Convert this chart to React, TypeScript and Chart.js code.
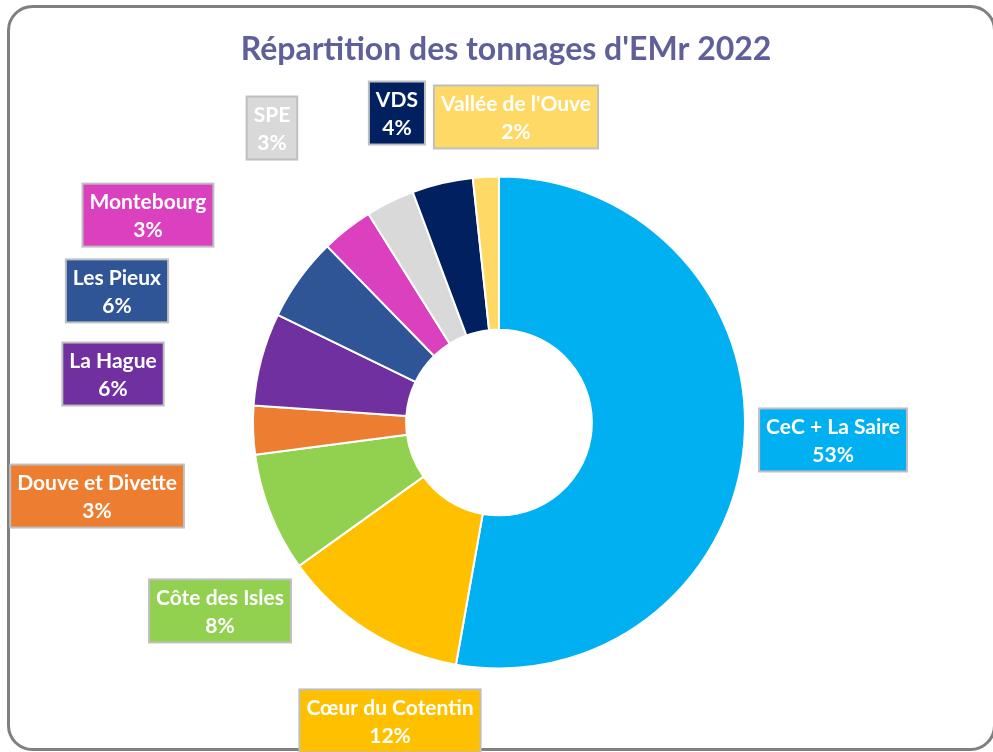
import React, { useEffect, useRef } from "react";
import { Chart, registerables } from "chart.js";

Chart.register(...registerables);

const TITLE = "Répartition des tonnages d'EMr 2022";
const categories = [
  "CeC + La Saire",
  "Cœur du Cotentin",
  "Côte des Isles",
  "Douve et Divette",
  "La Hague",
  "Les Pieux",
  "Montebourg",
  "SPE",
  "VDS",
  "Vallée de l'Ouve",
];
const shares = [52.8, 12.3, 7.8, 3.2, 6.1, 5.5, 3.4, 3.2, 4.0, 1.7];
const colors = [
  "#00B0F0",
  "#FFC000",
  "#92D050",
  "#ED7D31",
  "#7030A0",
  "#2F5597",
  "#DB40BF",
  "#D9D9D9",
  "#002060",
  "#FFD966",
];
// label box centres, in units of the outer radius from the doughnut centre
const labelPlacement: [number, number][] = [
  [1.358, 0.071],
  [-0.443, 1.213],
  [-1.134, 0.766],
  [-1.634, 0.299],
  [-1.569, -0.197],
  [-1.553, -0.535],
  [-1.427, -0.843],
  [-0.923, -1.197],
  [-0.415, -1.258],
  [0.069, -1.242],
];

const FONT = "Lato, 'Open Sans', sans-serif";

const decorPlugin = {
  id: "decor",
  beforeDraw(chart: any) {
    const ctx = chart.ctx as CanvasRenderingContext2D;
    ctx.save();
    ctx.fillStyle = "#ffffff";
    ctx.fillRect(0, 0, chart.width, chart.height);
    // frame
    ctx.strokeStyle = "#808080";
    ctx.lineWidth = 3;
    ctx.beginPath();
    (ctx as any).roundRect(8.5, 6.5, 986, 743, 24);
    ctx.stroke();
    // title
    ctx.fillStyle = "#5F5F99";
    ctx.font = `bold 32px ${FONT}`;
    ctx.textAlign = "center";
    ctx.textBaseline = "middle";
    ctx.fillText(TITLE, 506, 50);
    ctx.restore();
  },
  afterDatasetsDraw(chart: any) {
    const ctx = chart.ctx as CanvasRenderingContext2D;
    const meta = chart.getDatasetMeta(0);
    const arc = meta.data[0] as any;
    const cx0 = arc.x;
    const cy0 = arc.y;
    const R = arc.outerRadius;
    const data = chart.data.datasets[0].data as number[];
    const total = data.reduce((a, b) => a + b, 0);
    ctx.save();
    ctx.font = `bold 21px ${FONT}`;
    ctx.textAlign = "center";
    ctx.textBaseline = "middle";
    categories.forEach((name, i) => {
      const pct = Math.round((data[i] / total) * 100) + "%";
      const [fx, fy] = labelPlacement[i];
      const cx = cx0 + fx * R;
      const cy = cy0 + fy * R;
      const w = Math.max(ctx.measureText(name).width, ctx.measureText(pct).width) + 14;
      const h = 63;
      ctx.fillStyle = colors[i];
      ctx.fillRect(cx - w / 2, cy - h / 2, w, h);
      ctx.strokeStyle = "#BFBFBF";
      ctx.lineWidth = 2;
      ctx.strokeRect(cx - w / 2, cy - h / 2, w, h);
      ctx.fillStyle = "#ffffff";
      ctx.fillText(name, cx, cy - 13);
      ctx.fillText(pct, cx, cy + 15);
    });
    ctx.restore();
  },
};

export default function App() {
  const ref = useRef<HTMLCanvasElement | null>(null);
  useEffect(() => {
    if (!ref.current) return;
    const chart = new Chart(ref.current, {
      type: "doughnut",
      data: {
        labels: categories,
        datasets: [
          {
            data: shares,
            backgroundColor: colors,
            borderColor: "#ffffff",
            borderWidth: 2,
          },
        ],
      },
      options: {
        animation: false,
        responsive: true,
        maintainAspectRatio: false,
        radius: 246,
        cutout: 124,
        layout: { padding: { left: 5, right: 0, top: 93, bottom: 0 } },
        plugins: {
          legend: { display: false },
          tooltip: { enabled: false },
          title: { display: false },
        },
      },
      plugins: [decorPlugin],
    });
    return () => chart.destroy();
  }, []);
  return (
    <div style={{ position: "absolute", left: 0, top: 0, width: 993, height: 752 }}>
      <canvas ref={ref} />
    </div>
  );
}
